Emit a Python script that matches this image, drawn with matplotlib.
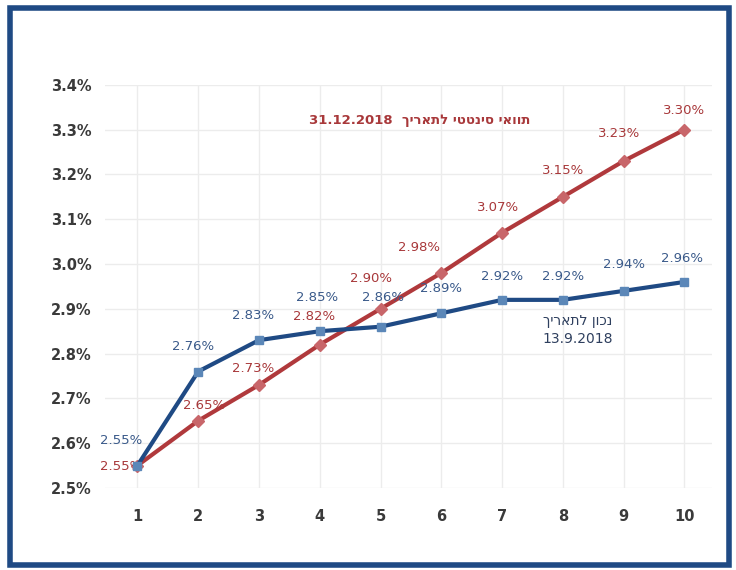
import matplotlib.pyplot as plt
from matplotlib.patches import Rectangle

points = [1, 2, 3, 4, 5, 6, 7, 8, 9, 10]
actual = [2.55, 2.76, 2.83, 2.85, 2.86, 2.89, 2.92, 2.92, 2.94, 2.96]
forecast = [2.55, 2.65, 2.73, 2.82, 2.90, 2.98, 3.07, 3.15, 3.23, 3.30]
yticks = [2.5, 2.6, 2.7, 2.8, 2.9, 3.0, 3.1, 3.2, 3.3, 3.4]

# label offsets in points (dx, dy) relative to each marker
actualOff = [(-12, 18), (-4, 18), (-4, 18), (-2, 24), (2, 21), (0, 18), (0, 17), (0, 17), (0, 19), (-2, 17)]
forecastOff = [(-12, -1), (4, 11), (-4, 12), (-4, 20), (-7, 22), (-16, 18), (-3, 18), (0, 19), (-3, 20), (0, 14)]

blue = '#1f4a84'
red = '#b0393c'

fig = plt.figure(figsize=(7.36, 5.7), dpi=100)
ax = fig.add_axes([0.143, 0.144, 0.824, 0.707])

ax.plot(points, forecast, color=red, linewidth=3, marker='D', markersize=6,
        markerfacecolor='#c8666a', markeredgecolor='#c8666a', zorder=3)
ax.plot(points, actual, color=blue, linewidth=3, marker='s', markersize=6,
        markerfacecolor='#5b87b8', markeredgecolor='#5b87b8', zorder=4)

for x, v, off in zip(points, actual, actualOff):
    ax.annotate("%.2f%%" % v, (x, v), xytext=off, textcoords='offset points',
                ha='center', va='center', fontsize=9.5, color='#3a5a8a')
for x, v, off in zip(points, forecast, forecastOff):
    ax.annotate("%.2f%%" % v, (x, v), xytext=off, textcoords='offset points',
                ha='center', va='center', fontsize=9.5, color='#a8383a')

# hebrew written in visual order (matplotlib has no bidi)
ax.text(5.65, 3.32, "31.12.2018  " + "תוואי סינטטי לתאריך"[::-1], ha='center', va='center',
        fontsize=9.5, color='#a8383a', fontweight='bold')
ax.text(8.25, 2.872, "נכון לתאריך"[::-1], ha='center', va='center', fontsize=10, color='#2e3f5e')
ax.text(8.25, 2.832, "13.9.2018", ha='center', va='center', fontsize=10, color='#2e3f5e')

ax.set_xlim(0.47, 10.45)
ax.set_ylim(2.5, 3.4)
ax.set_xticks(points)
ax.set_yticks(yticks)
ax.set_yticklabels(["%.1f%%" % t for t in yticks])
ax.tick_params(axis='both', length=0, labelsize=10.5, colors='#3a3a3a')
ax.tick_params(axis='x', pad=15)
ax.tick_params(axis='y', pad=10)
for lab in ax.get_xticklabels() + ax.get_yticklabels():
    lab.set_fontweight('bold')
ax.grid(True, color='#ececec', linewidth=1)
for s in ax.spines.values():
    s.set_visible(False)

fig.patches.append(Rectangle((0.013, 0.008), 0.977, 0.978, transform=fig.transFigure,
                             fill=False, edgecolor='#1f4a84', linewidth=4))

fig.savefig('out.png', dpi=100)
